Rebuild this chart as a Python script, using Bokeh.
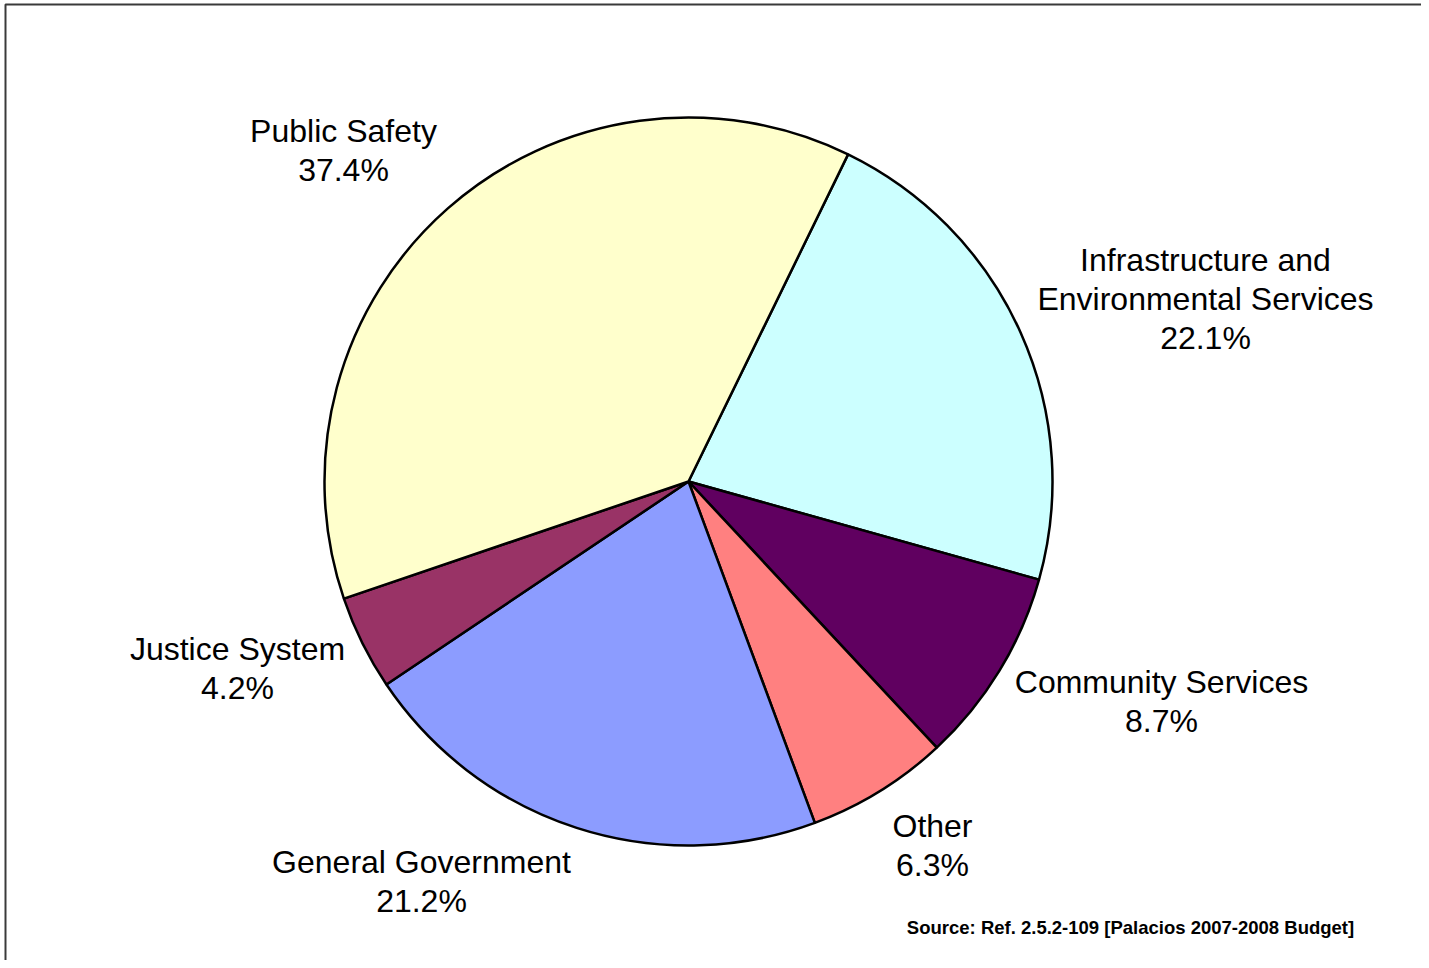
import math
from bokeh.plotting import figure
from bokeh.models import Range1d, ColumnDataSource, BoxAnnotation, Span
from bokeh.core.properties import value
from bokeh.embed import file_html
from bokeh.resources import INLINE

# ---- data (clockwise order, starting after Public Safety) ----
categories = ["Infrastructure and\nEnvironmental Services", "Community Services", "Other",
              "General Government", "Justice System", "Public Safety"]
shares = [22.1, 8.7, 6.3, 21.2, 4.2, 37.4]
colors = ["#CCFFFF", "#600060", "#FF8080", "#8C9CFF", "#993366", "#FFFFCC"]

source_note = "Source: Ref. 2.5.2-109 [Palacios 2007-2008 Budget]"

# ---- layout (page pixel coordinates; y measured downward) ----
W, H = 1421, 960
cx_px, cy_px, radius = 688, 481, 364
first_start_deg = 26.0  # clockwise from 12 o'clock
label_centers_px = [(1205, 298), (1161, 701), (932, 845), (421, 881), (237, 668), (343, 150)]
line_gap = 39
font = "Liberation Sans"

def Y(py):
    return H - py

total = sum(shares)
starts, ends = [], []
cum = 0.0
for v in shares:
    a0 = math.radians(90 - first_start_deg - cum / total * 360)
    cum += v
    a1 = math.radians(90 - first_start_deg - cum / total * 360)
    starts.append(a0)
    ends.append(a1)

p = figure(width=W, height=H, output_backend="svg", toolbar_location=None,
           x_range=Range1d(0, W), y_range=Range1d(0, H),
           min_border=0, match_aspect=False)
p.axis.visible = False
p.grid.visible = False
p.background_fill_color = "white"
p.border_fill_color = "white"
p.outline_line_color = None

# chart-area border (left and top dark, bottom light)
p.add_layout(BoxAnnotation(left=5, right=W + 50, top=Y(4), bottom=Y(966) - 50,
                           fill_color=None, fill_alpha=0, line_color="#3a3a3a",
                           line_alpha=1.0, line_width=2))
p.add_layout(Span(location=Y(966), dimension="width", line_color="#d0d0d0", line_width=2))

wsrc = ColumnDataSource(dict(start=starts, end=ends, color=colors))
p.wedge(x=cx_px, y=Y(cy_px), radius=radius, start_angle="start", end_angle="end",
        direction="clock", fill_color="color", line_color="black", line_width=2.5,
        source=wsrc)

tx, ty, tt = [], [], []
for name, v, (lx, ly) in zip(categories, shares, label_centers_px):
    lines = name.split("\n") + [f"{v:.1f}%"]
    n = len(lines)
    for i, ln in enumerate(lines):
        tx.append(lx)
        ty.append(Y(ly - (n - 1) / 2 * line_gap + i * line_gap))
        tt.append(ln)
p.text(x=tx, y=ty, text=tt, text_align="center", text_baseline="middle",
       text_font=value(font), text_font_size="32px", text_color="black")

p.text(x=[1130], y=[Y(927)], text=[source_note], text_align="center", text_baseline="middle",
       text_font=value(font), text_font_size="18.5px", text_font_style="bold", text_color="black")

open("out.html", "w").write(file_html(p, INLINE))
